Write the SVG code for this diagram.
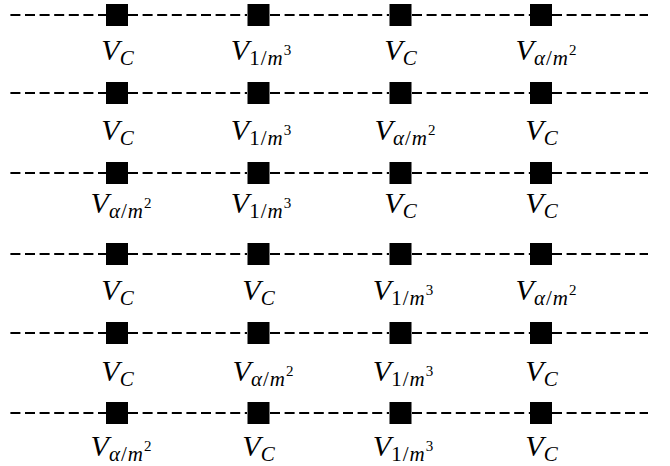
<svg xmlns="http://www.w3.org/2000/svg" width="670" height="466" viewBox="0 0 670 466">
<style>
.dash{fill:none;stroke:#000;stroke-width:2;stroke-dasharray:10 4.6}
.sq{fill:#000}
.lab{font-family:"Liberation Serif","DejaVu Serif",serif;font-style:italic;font-size:30px;fill:#000;text-anchor:middle}
.sub{font-size:21px;letter-spacing:1px}
.sup{font-size:15px;font-style:normal}
.rm{font-style:normal}
</style>
<defs>
<rect id="sqr" class="sq" x="-11" y="-11" width="22" height="22"/>
<path id="row" class="dash" d="M10.4 0H106M128 0H247M270 0H389M412 0H530M552 0H648"/>
</defs>
<rect width="670" height="466" fill="#fff"/>
<g id="connectors">
<use href="#row" y="15"/>
<use href="#row" y="93"/>
<use href="#row" y="173"/>
<use href="#row" y="254"/>
<use href="#row" y="333"/>
<use href="#row" y="413"/>
</g>
<!-- row 1 -->
<g id="n11"><use href="#sqr" x="117" y="15"/><text class="lab" x="118" y="60">V<tspan class="sub" dy="5">C</tspan></text></g>
<g id="n12"><use href="#sqr" x="258.5" y="15"/><text class="lab" x="261" y="60">V<tspan class="sub" dy="5"><tspan class="rm">1/</tspan>m</tspan><tspan class="sup" dy="-10">3</tspan></text></g>
<g id="n13"><use href="#sqr" x="400.5" y="15"/><text class="lab" x="401" y="60">V<tspan class="sub" dy="5">C</tspan></text></g>
<g id="n14"><use href="#sqr" x="541" y="15"/><text class="lab" x="546" y="60">V<tspan class="sub" dy="5">α<tspan class="rm">/</tspan>m</tspan><tspan class="sup" dy="-10">2</tspan></text></g>
<!-- row 2 -->
<g id="n21"><use href="#sqr" x="117" y="93"/><text class="lab" x="118" y="140">V<tspan class="sub" dy="5">C</tspan></text></g>
<g id="n22"><use href="#sqr" x="258.5" y="93"/><text class="lab" x="261" y="140">V<tspan class="sub" dy="5"><tspan class="rm">1/</tspan>m</tspan><tspan class="sup" dy="-10">3</tspan></text></g>
<g id="n23"><use href="#sqr" x="400.5" y="93"/><text class="lab" x="405" y="140">V<tspan class="sub" dy="5">α<tspan class="rm">/</tspan>m</tspan><tspan class="sup" dy="-10">2</tspan></text></g>
<g id="n24"><use href="#sqr" x="541" y="93"/><text class="lab" x="542" y="140">V<tspan class="sub" dy="5">C</tspan></text></g>
<!-- row 3 -->
<g id="n31"><use href="#sqr" x="117" y="173"/><text class="lab" x="121" y="213">V<tspan class="sub" dy="5">α<tspan class="rm">/</tspan>m</tspan><tspan class="sup" dy="-10">2</tspan></text></g>
<g id="n32"><use href="#sqr" x="258.5" y="173"/><text class="lab" x="261" y="213">V<tspan class="sub" dy="5"><tspan class="rm">1/</tspan>m</tspan><tspan class="sup" dy="-10">3</tspan></text></g>
<g id="n33"><use href="#sqr" x="400.5" y="173"/><text class="lab" x="401" y="213">V<tspan class="sub" dy="5">C</tspan></text></g>
<g id="n34"><use href="#sqr" x="541" y="173"/><text class="lab" x="542" y="213">V<tspan class="sub" dy="5">C</tspan></text></g>
<!-- row 4 -->
<g id="n41"><use href="#sqr" x="117" y="254"/><text class="lab" x="118" y="300">V<tspan class="sub" dy="5">C</tspan></text></g>
<g id="n42"><use href="#sqr" x="258.5" y="254"/><text class="lab" x="259" y="300">V<tspan class="sub" dy="5">C</tspan></text></g>
<g id="n43"><use href="#sqr" x="400.5" y="254"/><text class="lab" x="403" y="300">V<tspan class="sub" dy="5"><tspan class="rm">1/</tspan>m</tspan><tspan class="sup" dy="-10">3</tspan></text></g>
<g id="n44"><use href="#sqr" x="541" y="254"/><text class="lab" x="546" y="300">V<tspan class="sub" dy="5">α<tspan class="rm">/</tspan>m</tspan><tspan class="sup" dy="-10">2</tspan></text></g>
<!-- row 5 -->
<g id="n51"><use href="#sqr" x="117" y="333"/><text class="lab" x="118" y="381">V<tspan class="sub" dy="5">C</tspan></text></g>
<g id="n52"><use href="#sqr" x="258.5" y="333"/><text class="lab" x="263" y="381">V<tspan class="sub" dy="5">α<tspan class="rm">/</tspan>m</tspan><tspan class="sup" dy="-10">2</tspan></text></g>
<g id="n53"><use href="#sqr" x="400.5" y="333"/><text class="lab" x="403" y="381">V<tspan class="sub" dy="5"><tspan class="rm">1/</tspan>m</tspan><tspan class="sup" dy="-10">3</tspan></text></g>
<g id="n54"><use href="#sqr" x="541" y="333"/><text class="lab" x="542" y="381">V<tspan class="sub" dy="5">C</tspan></text></g>
<!-- row 6 -->
<g id="n61"><use href="#sqr" x="117" y="413"/><text class="lab" x="121" y="456">V<tspan class="sub" dy="5">α<tspan class="rm">/</tspan>m</tspan><tspan class="sup" dy="-10">2</tspan></text></g>
<g id="n62"><use href="#sqr" x="258.5" y="413"/><text class="lab" x="259" y="456">V<tspan class="sub" dy="5">C</tspan></text></g>
<g id="n63"><use href="#sqr" x="400.5" y="413"/><text class="lab" x="403" y="456">V<tspan class="sub" dy="5"><tspan class="rm">1/</tspan>m</tspan><tspan class="sup" dy="-10">3</tspan></text></g>
<g id="n64"><use href="#sqr" x="541" y="413"/><text class="lab" x="542" y="456">V<tspan class="sub" dy="5">C</tspan></text></g>
</svg>
